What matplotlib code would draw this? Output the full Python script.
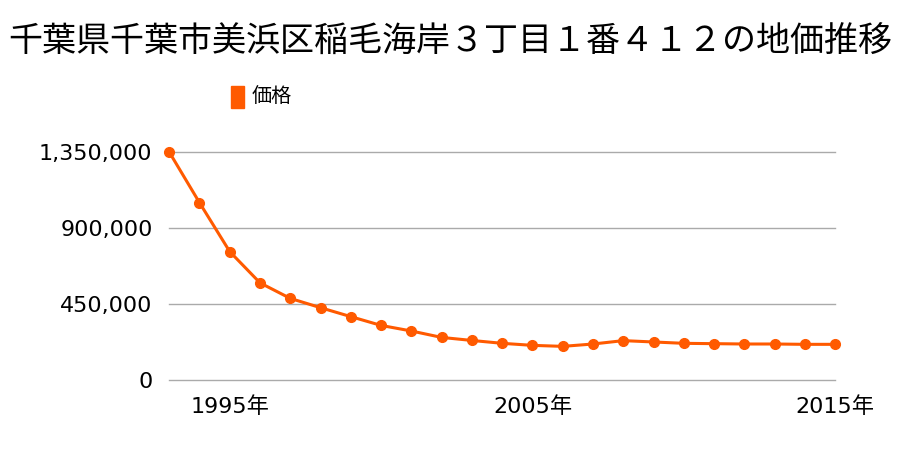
import matplotlib.pyplot as plt
from matplotlib.ticker import FuncFormatter

plt.rcParams["font.family"] = ["DejaVu Sans", "Noto Sans CJK JP"]

# data
years = list(range(1993, 2016))
prices = [
    1350000, 1050000, 760000, 575000, 483000, 428000, 375000, 323000,
    290000, 252000, 234000, 217000, 205000, 199000, 213000, 233000,
    225000, 217000, 215000, 213000, 213000, 211000, 211000,
]
yticks = [0, 450000, 900000, 1350000]
xticks = [1995, 2005, 2015]

title = "千葉県千葉市美浜区稲毛海岸３丁目１番４１２の地価推移"
series_name = "価格"
color = "#ff5a00"
cjk = ["Noto Sans CJK JP", "DejaVu Sans"]

fig = plt.figure(figsize=(9, 4.5), dpi=100)
ax = fig.add_axes([0.188, 0.1556, 0.74, 0.5067])

ax.plot(years, prices, color=color, lw=2.2, marker="o", markersize=7,
        clip_on=False, zorder=3, label=series_name)

ax.set_xlim(1993, 2015)
ax.set_ylim(0, 1350000)
ax.set_yticks(yticks)
ax.yaxis.set_major_formatter(FuncFormatter(lambda v, p: f"{int(v):,}"))
ax.set_xticks(xticks)
ax.set_xticklabels([f"{y}年" for y in xticks])

# gridlines (not clipped, so the zero line shows fully)
for v in yticks:
    ax.axhline(v, color="#aaaaaa", lw=1, clip_on=False, zorder=1)
for s in ax.spines.values():
    s.set_visible(False)
ax.tick_params(length=0, labelsize=16, colors="black")
ax.tick_params(axis="y", pad=12)
ax.tick_params(axis="x", pad=12)

fig.text(0.5, 0.905, title, ha="center", va="center", fontsize=24.5, family=cjk)

# legend
fig.patches.append(plt.Rectangle((231 / 900, 1 - 108 / 450), 13 / 900, 22 / 450,
                                 transform=fig.transFigure, color=color))
fig.text(252 / 900, 1 - 97 / 450, series_name, ha="left", va="center",
         fontsize=14.5, family=cjk)

fig.savefig("out.png", dpi=100)
